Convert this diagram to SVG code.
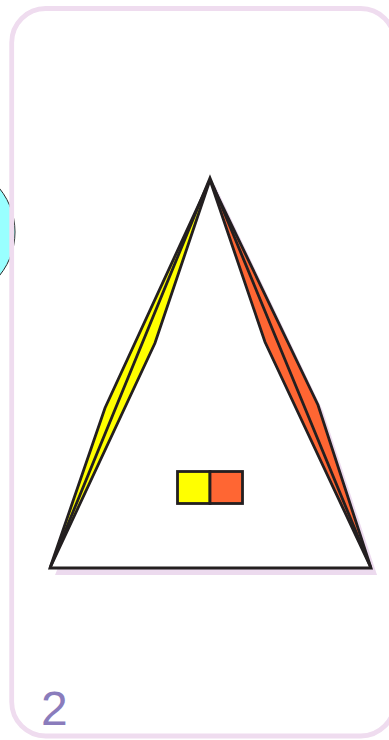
<svg xmlns="http://www.w3.org/2000/svg" width="389" height="740" viewBox="0 0 389 740">
  <style>
    .ink { stroke: #231f20; stroke-width: 2.8; stroke-linejoin: miter; stroke-miterlimit: 4; }
    .label { font-family: "Liberation Sans", Arial, sans-serif; font-size: 48px; fill: #8a7cbc; }
  </style>
  <rect x="0" y="0" width="389" height="740" fill="#ffffff"/>
  <g id="circle">
    <circle cx="-54" cy="232" r="69" fill="#99ffff" stroke="#2a2a2a" stroke-width="1"/>
  </g>
  <g id="frame">
    <rect x="11.7" y="8.5" width="383" height="727.5" rx="34" ry="34" fill="none" stroke="#efdcef" stroke-width="4.8"/>
  </g>
  <g id="triangle">
    <polygon points="215,185 323,411 377,575 55,575" fill="#ecdaee"/>
    <polygon points="210,178 371,568 50,568" fill="#ffffff"/>
    <polygon class="ink" points="210,180 105,408 50,568 155,343" fill="#ffff00"/>
    <polygon class="ink" points="210,180 265,342 371,568 318,405" fill="#ff6633"/>
    <polygon class="ink" points="210,178 371,568 50,568" fill="none"/>
  </g>
  <g id="swatches">
    <rect class="ink" x="177.5" y="471.5" width="32.5" height="32" fill="#ffff00"/>
    <rect class="ink" x="210" y="471.5" width="32.5" height="32" fill="#ff6633"/>
  </g>
  <g id="page-number">
    <text class="label" x="41" y="725">2</text>
  </g>
</svg>
